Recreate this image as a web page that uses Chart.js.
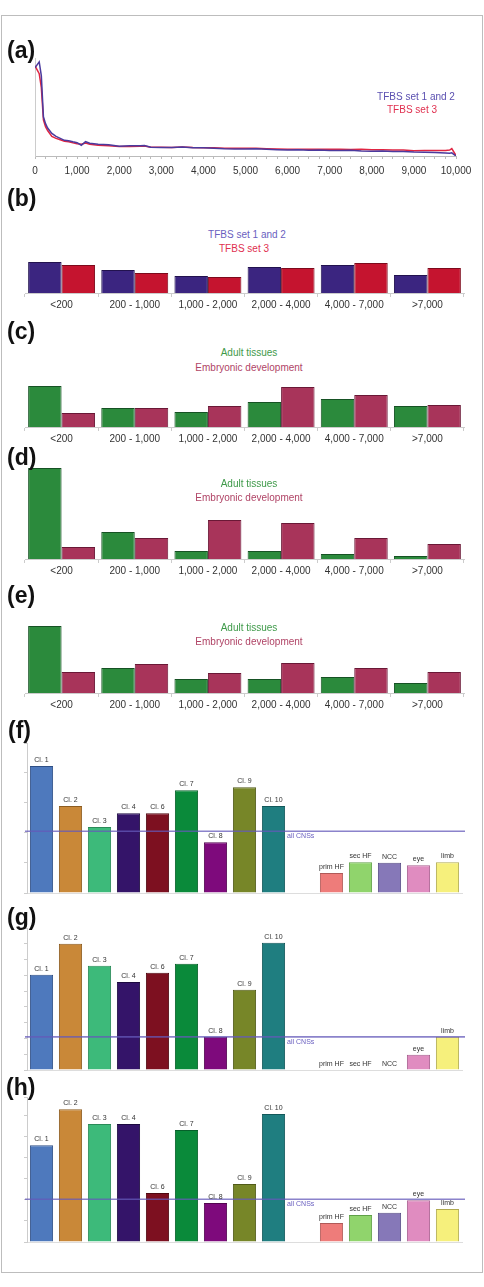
<!DOCTYPE html>
<html><head><meta charset="utf-8">
<script src="https://cdn.jsdelivr.net/npm/chart.js@4.4.0/dist/chart.umd.min.js"></script>
<style>
html,body{margin:0;padding:0;background:#fff;}
body{width:484px;height:1287px;position:relative;overflow:hidden;font-family:"Liberation Sans",Arial,Helvetica,sans-serif;}
#frame{position:absolute;left:1px;top:15px;width:482px;height:1258px;border:1px solid #bdbdbd;box-sizing:border-box;}
canvas{position:absolute;left:0;}
.pl{position:absolute;font-weight:bold;font-size:23px;color:#111;line-height:1;transform:translateY(-50%);z-index:2;}
.t{position:absolute;font-size:10px;line-height:1;white-space:nowrap;transform:translate(-50%,-50%);z-index:2;}
</style></head>
<body>
<div id="frame"></div>
<div class="pl" style="left:7px;top:50px">(a)</div>
<div class="pl" style="left:7px;top:198px">(b)</div>
<div class="pl" style="left:7px;top:331px">(c)</div>
<div class="pl" style="left:7px;top:457px">(d)</div>
<div class="pl" style="left:7px;top:595px">(e)</div>
<div class="pl" style="left:8px;top:730px">(f)</div>
<div class="pl" style="left:7px;top:917px">(g)</div>
<div class="pl" style="left:6px;top:1087px">(h)</div>

<div class="t" style="left:416px;top:97px;color:#5a4fb0">TFBS set 1 and 2</div>
<div class="t" style="left:412px;top:110px;color:#e0304f">TFBS set 3</div>
<div class="t" style="left:247px;top:235px;color:#6a5fc0">TFBS set 1 and 2</div>
<div class="t" style="left:244px;top:249px;color:#e0304f">TFBS set 3</div>
<div class="t" style="left:249px;top:353px;color:#3f9a4a">Adult tissues</div>
<div class="t" style="left:249px;top:368px;color:#b04466">Embryonic development</div>
<div class="t" style="left:249px;top:484px;color:#3f9a4a">Adult tissues</div>
<div class="t" style="left:249px;top:498px;color:#b04466">Embryonic development</div>
<div class="t" style="left:249px;top:628px;color:#3f9a4a">Adult tissues</div>
<div class="t" style="left:249px;top:642px;color:#b04466">Embryonic development</div>

<canvas id="ca" width="484" height="135" style="top:50px"></canvas>
<canvas id="cb" width="484" height="65" style="top:255px"></canvas>
<canvas id="cc" width="484" height="74" style="top:380px"></canvas>
<canvas id="cd" width="484" height="121" style="top:465px"></canvas>
<canvas id="ce" width="484" height="100" style="top:620px"></canvas>
<canvas id="cf" width="484" height="160" style="top:735px"></canvas>
<canvas id="cg" width="484" height="152" style="top:920px"></canvas>
<canvas id="ch" width="484" height="155" style="top:1089px"></canvas>

<script>
// ---------- DATA ----------
// (a) TFBS density vs distance
const aX = [0,100,150,200,250,300,400,500,600,700,800,900,1000,1100,1200,1300,1400,1500,1750,2000,2250,2500,2600,2750,3000,3250,3500,3750,4000,4250,4500,4750,5000,5250,5500,5750,6000,6250,6500,6750,7000,7250,7500,7750,8000,8250,8500,8750,9000,9250,9500,9750,9850,9900,10000];
const aSet12 = [90,96,82,40,33,28.5,23,20,18,16,15.5,14.5,13.6,11,14.6,13,12.5,12,11.5,10,10.5,10.5,10.8,9,8.8,8.6,9.2,8.5,8.5,8.0,7.3,7.2,7.1,7.3,6.8,6.5,6.2,6.4,5.8,6.1,5.6,5.5,5.8,5.0,4.9,5.0,4.6,4.5,4.0,3.8,3.5,3.0,2.7,3.2,0];
const aSet3 = [92,84,70,37,30,26,20,18,16.5,15,14.5,13.5,12.6,12,13.2,12,11.5,11,10.5,9.7,9.8,10,10.2,9,9,8.8,9.2,8.6,8.5,8.3,8,8,8,7.8,7.4,7.2,7,7,6.8,7,7,6.8,6.6,6.8,6.5,6.4,6.2,6.0,5.4,5.6,5.5,5.6,6,7.5,0.5];

// (b)-(e) distance bins
const bins = ['<200','200 - 1,000','1,000 - 2,000','2,000 - 4,000','4,000 - 7,000','>7,000'];
const bSet12 = [31,23,17,26,28,18];
const bSet3  = [28,20,16,25,30,25];
const cAdult = [41,19,15,25,28,21];
const cEmbryo= [14,19,21,40,32,22];
const dAdult = [91,27,8,8,5,3];
const dEmbryo= [12,21,39,36,21,15];
const eAdult = [67,25,14,14,16,10];
const eEmbryo= [21,29,20,30,25,21];

// (f)-(h) clusters
const clusters = ['Cl. 1','Cl. 2','Cl. 3','Cl. 4','Cl. 6','Cl. 7','Cl. 8','Cl. 9','Cl. 10','','prim HF','sec HF','NCC','eye','limb'];
const fVals = [2.10,1.44,1.09,1.32,1.32,1.70,0.84,1.75,1.44,null,0.33,0.51,0.50,0.46,0.51];
const gVals = [3.02,4.00,3.30,2.79,3.08,3.37,1.05,2.54,4.03,null,0,0,0,0.48,1.05];
const hVals = [2.29,3.14,2.79,2.79,1.16,2.65,0.92,1.37,3.03,null,0.45,0.64,0.69,0.99,0.78];
const fAll = 1.02, gAll = 1.05, hAll = 1.01;

// ---------- STYLE ----------
const FONT = '"Liberation Sans", Arial, Helvetica, sans-serif';
Chart.defaults.font.family = FONT;
Chart.defaults.color = '#333';
Chart.defaults.animation = false;
Chart.defaults.plugins.legend.display = false;
Chart.defaults.plugins.tooltip.enabled = false;

const clFill = ['#4e79bd','#c98838','#3dba7a','#341469','#7d1020','#0a8a3a','#7e0a7c','#778628','#1f7e80','#fff','#ee7c7a','#90d46c','#8678b8','#e08cc0','#f6f07c'];
const clEdge = ['#2f4f85','#8c5c20','#2a8a58','#1c0a40','#500810','#06602a','#520550','#505a18','#12585a','#fff','#b05a58','#60a048','#5a4f88','#a86090','#b0aa50'];

// (a)
new Chart(document.getElementById('ca'), {
  type:'line',
  data:{datasets:[
    {data:aX.map((x,i)=>({x:x,y:aSet12[i]})), borderColor:'#4b3a9e', borderWidth:1.5, pointRadius:0, tension:0},
    {data:aX.map((x,i)=>({x:x,y:aSet3[i]})), borderColor:'#e02542', borderWidth:1.5, pointRadius:0, tension:0}
  ]},
  options:{responsive:false, layout:{padding:{left:35,right:28,top:8,bottom:0}},
    scales:{
      x:{type:'linear', min:0, max:10000,
         ticks:{stepSize:250, autoSkip:false, maxRotation:0, padding:6, font:{size:10}, color:'#333',
                callback:v=> (v%1000===0 ? v.toLocaleString('en-US') : '')},
         grid:{drawOnChartArea:false, tickLength:3, color:'#bbb'}, border:{color:'#bbb'},
         afterFit:s=>{s.height=29;}},
      y:{min:0, max:100, ticks:{display:false}, grid:{display:false}, border:{display:true,color:'#ccc'},
         afterFit:s=>{s.width=0;}}
    }}
});

function groupBar(id, s1, s2, f1, f2, e1, e2, ymax){
  new Chart(document.getElementById(id), {
    type:'bar',
    data:{labels:bins, datasets:[
      {data:s1, backgroundColor:f1, borderColor:e1, borderWidth:1, categoryPercentage:0.915, barPercentage:1},
      {data:s2, backgroundColor:f2, borderColor:e2, borderWidth:1, categoryPercentage:0.915, barPercentage:1}
    ]},
    options:{responsive:false, layout:{padding:{left:25,right:20,top:0,bottom:0}},
      scales:{
        x:{ticks:{padding:2, font:{size:10}, color:'#333', maxRotation:0, autoSkip:false},
           grid:{offset:true, drawOnChartArea:false, tickLength:4, color:'#ccc'}, border:{color:'#ccc'},
           afterFit:s=>{s.height=27;}},
        y:{display:false, min:0, max:ymax}
      }}
  });
}
groupBar('cb', bSet12, bSet3, '#3b2580', '#c5142f', '#22124f', '#7d0a1c', 38);
groupBar('cc', cAdult, cEmbryo, '#2b8a3c', '#a8345a', '#165224', '#6a1836', 47);
groupBar('cd', dAdult, dEmbryo, '#2b8a3c', '#a8345a', '#165224', '#6a1836', 94);
groupBar('ce', eAdult, eEmbryo, '#2b8a3c', '#a8345a', '#165224', '#6a1836', 73);

const clusterPlugin = {id:'clusterDeco', afterDatasetsDraw(chart, args, opts){
  const ctx = chart.ctx, meta = chart.getDatasetMeta(0), ds = chart.data.datasets[0].data;
  ctx.save();
  const yRef = chart.scales.y.getPixelForValue(opts.ref);
  ctx.strokeStyle = 'rgba(100,90,185,0.75)'; ctx.lineWidth = 1.6;
  ctx.beginPath(); ctx.moveTo(chart.chartArea.left-2, yRef); ctx.lineTo(chart.chartArea.right+3, yRef); ctx.stroke();
  ctx.font = '7px ' + FONT; ctx.textAlign = 'center'; ctx.textBaseline = 'middle'; ctx.fillStyle = '#333';
  meta.data.forEach((bar,i)=>{ if(ds[i]===null) return; ctx.fillText(chart.data.labels[i], bar.x, bar.y-6); });
  const b10 = meta.data[8];
  ctx.textAlign = 'left'; ctx.fillStyle = '#6a60c0';
  ctx.fillText('all CNSs', b10.x + b10.width/2 + 2, yRef + 5);
  ctx.restore();
}};

function clusterBar(id, vals, ref, ymax){
  new Chart(document.getElementById(id), {
    type:'bar',
    data:{labels:clusters, datasets:[{data:vals, backgroundColor:clFill, borderColor:clEdge, borderWidth:1,
      categoryPercentage:0.8, barPercentage:1}]},
    options:{responsive:false, layout:{padding:{left:22,right:22,top:8,bottom:2}},
      plugins:{clusterDeco:{ref:ref}},
      scales:{
        x:{ticks:{display:false}, grid:{display:false}, border:{color:'#ddd'}, afterFit:s=>{s.height=0;}},
        y:{min:0, max:ymax, ticks:{display:false, stepSize:0.5}, grid:{drawOnChartArea:false, tickLength:3, color:'#ccc'},
           border:{color:'#ccc'}, afterFit:s=>{s.width=5;}}
      }},
    plugins:[clusterPlugin]
  });
}
clusterBar('cf', fVals, fAll, 2.48);
clusterBar('cg', gVals, gAll, 4.5);
clusterBar('ch', hVals, hAll, 3.43);
</script>
</body></html>
